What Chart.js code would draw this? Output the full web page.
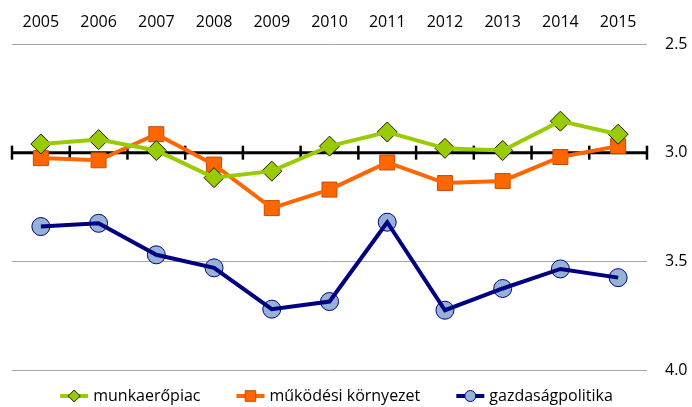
<!DOCTYPE html>
<html>
<head>
<meta charset="utf-8">
<script src="https://cdn.jsdelivr.net/npm/chart.js@4/dist/chart.umd.min.js"></script>
<style>
  html, body { margin: 0; padding: 0; background: #fff; }
  #wrap { width: 692px; height: 407px; }
</style>
</head>
<body>
<div id="wrap"><canvas id="chart"></canvas></div>
<script>
// adatok
const years = ['2005', '2006', '2007', '2008', '2009', '2010', '2011', '2012', '2013', '2014', '2015'];
const munkaeropiac = [2.96, 2.94, 2.99, 3.115, 3.085, 2.97, 2.905, 2.98, 2.99, 2.855, 2.915];
const mukodesiKornyezet = [3.025, 3.035, 2.915, 3.055, 3.255, 3.17, 3.045, 3.14, 3.13, 3.02, 2.97];
const gazdasagpolitika = [3.34, 3.325, 3.47, 3.53, 3.72, 3.685, 3.32, 3.725, 3.625, 3.535, 3.575];
const yTicks = [2.5, 3.0, 3.5, 4.0];

const FONT = "'Open Sans', sans-serif";

const series = [
    { label: 'munkaerőpiac', data: munkaeropiac, color: '#99CC00', fill: '#99CC00', border: '#1a1a00', style: 'rectRot', radius: 10, legendRadius: 6 },
    { label: 'működési környezet', data: mukodesiKornyezet, color: '#FF6600', fill: '#FF6600', border: '#C04E00', style: 'rect', radius: 10.6, legendRadius: 7.5 },
    { label: 'gazdaságpolitika', data: gazdasagpolitika, color: '#000080', fill: '#95B3D7', border: '#000080', style: 'circle', radius: 9, legendRadius: 5.5 }
];

// először a vonalak, utána a jelölők (mint Excelben)
const datasets = [];
series.forEach(s => {
    datasets.push({
        label: s.label, data: s.data, borderColor: s.color, borderWidth: 4,
        pointRadius: 0, pointHoverRadius: 0, tension: 0, fill: false
    });
});
series.forEach(s => {
    datasets.push({
        label: s.label + ' pont', data: s.data, showLine: false,
        pointStyle: s.style, pointRadius: s.radius, pointHoverRadius: s.radius,
        pointBackgroundColor: s.fill, pointBorderColor: s.border, pointBorderWidth: 1
    });
});

// vastag fekete vonal a 3.0-nál, kategória osztásokkal
const axisLinePlugin = {
    id: 'axisLine',
    beforeDatasetsDraw(chart) {
        const ctx = chart.ctx;
        const { left, right } = chart.chartArea;
        const y = chart.scales.y.getPixelForValue(3.0);
        const step = (right - left) / years.length;
        ctx.save();
        ctx.strokeStyle = '#000';
        ctx.lineWidth = 3;
        ctx.beginPath();
        ctx.moveTo(left, y);
        ctx.lineTo(right, y);
        ctx.stroke();
        ctx.lineWidth = 2.5;
        for (let i = 0; i <= years.length; i++) {
            const x = left + i * step;
            ctx.beginPath();
            ctx.moveTo(x, y - 7);
            ctx.lineTo(x, y + 7);
            ctx.stroke();
        }
        ctx.restore();
    }
};

// jelmagyarázat: vonal + jelölő
const legendPlugin = {
    id: 'customLegend',
    afterDraw(chart) {
        const ctx = chart.ctx;
        ctx.save();
        ctx.font = '16px ' + FONT;
        ctx.textBaseline = 'middle';
        const symW = 28, gapText = 5, gapItem = 36;
        const widths = series.map(s => symW + gapText + ctx.measureText(s.label).width);
        const total = widths.reduce((a, b) => a + b, 0) + gapItem * (series.length - 1);
        const center = (chart.chartArea.left + chart.chartArea.right) / 2 + 7;
        let x = center - total / 2;
        const y = 396;
        series.forEach((s, i) => {
            ctx.strokeStyle = s.color;
            ctx.lineWidth = 4;
            ctx.beginPath();
            ctx.moveTo(x, y);
            ctx.lineTo(x + symW, y);
            ctx.stroke();
            ctx.fillStyle = s.fill;
            ctx.strokeStyle = s.border;
            ctx.lineWidth = 1;
            Chart.helpers.drawPoint(ctx, { pointStyle: s.style, radius: s.legendRadius, borderWidth: 1 }, x + symW / 2, y);
            ctx.fillStyle = '#000';
            ctx.fillText(s.label, x + symW + gapText, y);
            x += widths[i] + gapItem;
        });
        ctx.restore();
    }
};

new Chart(document.getElementById('chart'), {
    type: 'line',
    data: { labels: years, datasets: datasets },
    options: {
        responsive: true,
        maintainAspectRatio: false,
        animation: false,
        layout: { padding: { left: 12, right: 0, top: 0, bottom: 37 } },
        plugins: {
            legend: { display: false },
            tooltip: { enabled: false }
        },
        scales: {
            x: {
                position: 'top',
                offset: true,
                grid: { display: false, drawTicks: false },
                border: { display: false },
                ticks: { color: '#000', font: { family: FONT, size: 16 }, padding: 12, maxRotation: 0 },
                afterFit(scale) { scale.height = 44; }
            },
            y: {
                position: 'right',
                reverse: true,
                min: 2.5,
                max: 4.0,
                afterBuildTicks(scale) { scale.ticks = yTicks.map(v => ({ value: v })); },
                grid: {
                    drawTicks: false,
                    color: ctx => (ctx.tick && ctx.tick.value === 3.0) ? 'rgba(0,0,0,0)' : '#A6A6A6',
                    lineWidth: 1
                },
                border: { display: false },
                ticks: {
                    color: '#000', font: { family: FONT, size: 16 }, padding: 18,
                    callback: v => Number(v).toFixed(1)
                },
                afterFit(scale) { scale.width = 45; }
            }
        }
    },
    plugins: [axisLinePlugin, legendPlugin]
});
</script>
</body>
</html>
